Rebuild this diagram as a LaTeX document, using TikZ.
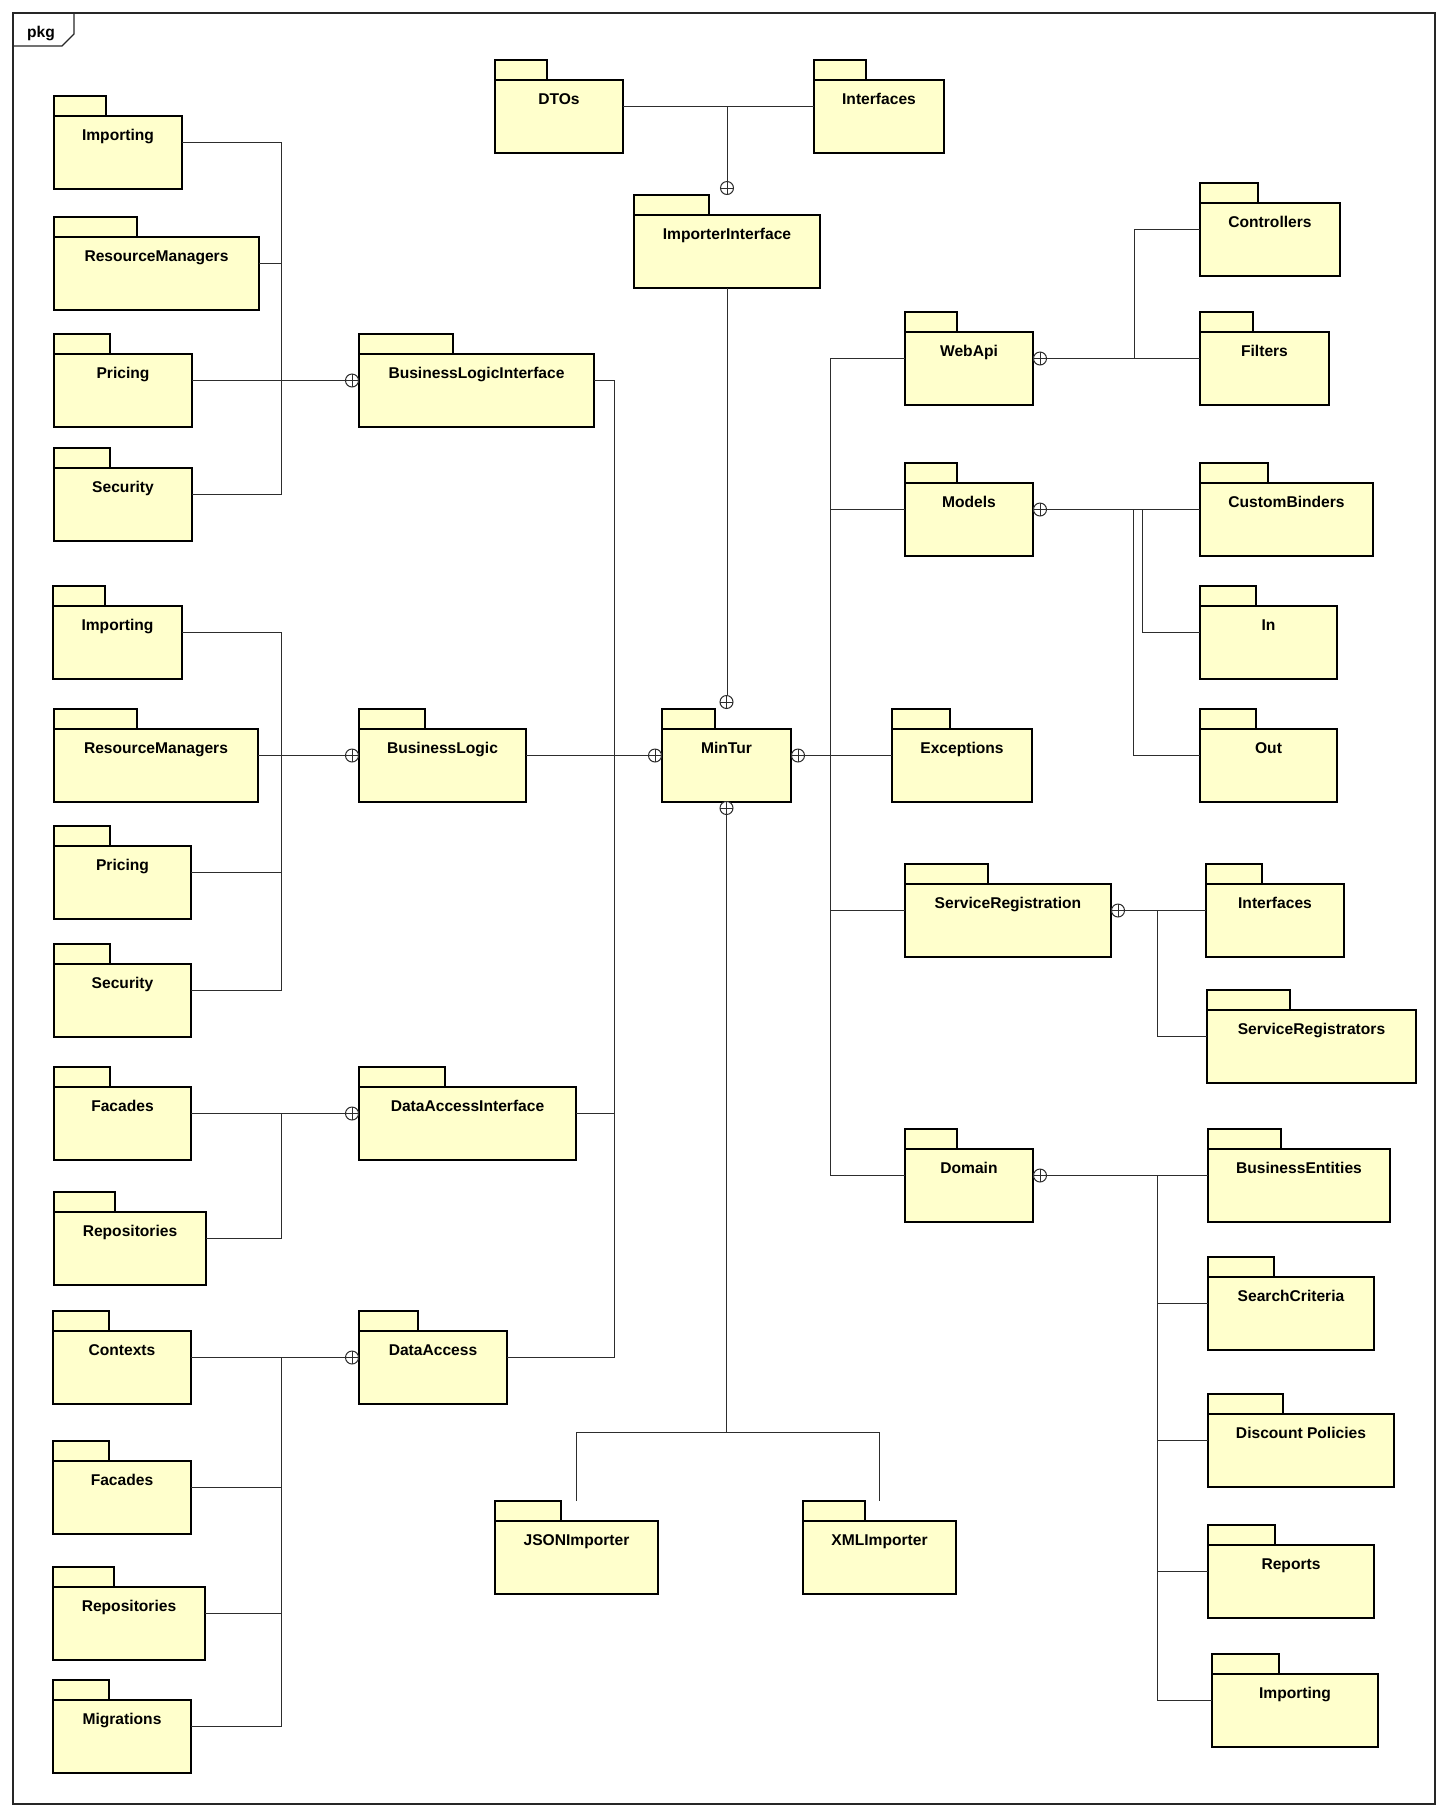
\documentclass[tikz,border=0pt]{standalone}
\usepackage{fontspec}
\setmainfont{Liberation Sans}
\definecolor{pkgYellow}{RGB}{255,255,204}
\definecolor{linkGray}{RGB}{45,45,45}

\newcommand{\PkgNode}[6]{%
	\node[pkgArea, minimum width = #4pt] (#1) at (#2, #3) {};
	\draw[pkgLine] (#1.north west) rectangle ++(#5, 20);
	\draw[pkgLine] ([yshift = -20pt]#1.north west) rectangle (#1.south east);
	\node[pkgLabel] at ([yshift = -44pt]#1.north) {#6};
}

\begin{document}
\begin{tikzpicture}[x = 1pt, y = -1pt]
	\tikzstyle{pkgArea} = [rectangle, anchor = north west, minimum height = 93pt, inner sep = 0pt, outer sep = 0pt]
	\tikzstyle{pkgLine} = [line width = 2.9pt, draw = black, fill = pkgYellow]
	\tikzstyle{pkgLabel} = [anchor = base, inner sep = 0pt, font = \bfseries\fontsize{15.6}{18}\selectfont]
	\tikzstyle{frameLine} = [line width = 1.1pt, draw = black!85]
	\tikzstyle{frameLabel} = [anchor = base west, inner sep = 0pt, font = \bfseries\fontsize{15.6}{18}\selectfont]
	\tikzstyle{link} = [line width = 1pt, draw = linkGray]
	\tikzstyle{nest} = [shape = circle, minimum size = 13pt, inner sep = 0pt, line width = 1pt, draw = linkGray, fill = white,
		path picture = {\draw[line width = 1pt, linkGray] (path picture bounding box.north) -- (path picture bounding box.south) (path picture bounding box.west) -- (path picture bounding box.east);}]
	\useasboundingbox (0, 0) rectangle (1448, 1816);
	\draw[frameLine] (13, 13) rectangle (1435, 1804);
	\draw[frameLine] (13, 46) -- (62, 46) -- (74, 34) -- (74, 13);
	\node[frameLabel] (frameName) at (27, 37) {pkg};

	\PkgNode{impA}{54}{96}{128}{52}{Importing}
	\PkgNode{resA}{54}{217}{205}{83}{ResourceManagers}
	\PkgNode{priA}{54}{334}{138}{56}{Pricing}
	\PkgNode{secA}{54}{448}{138}{56}{Security}
	\PkgNode{bli}{359}{334}{235}{94}{BusinessLogicInterface}

	\PkgNode{impB}{53}{586}{129}{52}{Importing}
	\PkgNode{resB}{54}{709}{204}{83}{ResourceManagers}
	\PkgNode{priB}{54}{826}{137}{56}{Pricing}
	\PkgNode{secB}{54}{944}{137}{56}{Security}
	\PkgNode{bl}{359}{709}{167}{66}{BusinessLogic}

	\PkgNode{facC}{54}{1067}{137}{56}{Facades}
	\PkgNode{repC}{54}{1192}{152}{61}{Repositories}
	\PkgNode{dai}{359}{1067}{217}{86}{DataAccessInterface}

	\PkgNode{ctxD}{53}{1311}{138}{56}{Contexts}
	\PkgNode{facD}{53}{1441}{138}{56}{Facades}
	\PkgNode{repD}{53}{1567}{152}{61}{Repositories}
	\PkgNode{migD}{53}{1680}{138}{56}{Migrations}
	\PkgNode{da}{359}{1311}{148}{59}{DataAccess}

	\PkgNode{dtos}{495}{60}{128}{52}{DTOs}
	\PkgNode{ifaces}{814}{60}{130}{52}{Interfaces}
	\PkgNode{impif}{634}{195}{186}{75}{ImporterInterface}
	\PkgNode{mintur}{662}{709}{129}{53}{MinTur}
	\PkgNode{json}{495}{1501}{163}{66}{JSONImporter}
	\PkgNode{xml}{803}{1501}{153}{62}{XMLImporter}

	\PkgNode{webapi}{905}{312}{128}{52}{WebApi}
	\PkgNode{models}{905}{463}{128}{52}{Models}
	\PkgNode{exc}{892}{709}{140}{58}{Exceptions}
	\PkgNode{svcreg}{905}{864}{206}{83}{ServiceRegistration}
	\PkgNode{domain}{905}{1129}{128}{52}{Domain}

	\PkgNode{controllers}{1200}{183}{140}{58}{Controllers}
	\PkgNode{filters}{1200}{312}{129}{53}{Filters}
	\PkgNode{custbind}{1200}{463}{173}{68}{CustomBinders}
	\PkgNode{inpkg}{1200}{586}{137}{56}{In}
	\PkgNode{outpkg}{1200}{709}{137}{56}{Out}
	\PkgNode{svcif}{1206}{864}{138}{56}{Interfaces}
	\PkgNode{svcregs}{1207}{990}{209}{83}{ServiceRegistrators}
	\PkgNode{bizent}{1208}{1129}{182}{73}{BusinessEntities}
	\PkgNode{search}{1208}{1257}{166}{66}{SearchCriteria}
	\PkgNode{discount}{1208}{1394}{186}{75}{Discount Policies}
	\PkgNode{reports}{1208}{1525}{166}{67}{Reports}
	\PkgNode{impDom}{1212}{1654}{166}{67}{Importing}

	\node[nest] (nBli) at ([xshift = -7pt]bli.west) {};
	\node[nest] (nBl) at ([xshift = -7pt]bl.west) {};
	\node[nest] (nDai) at ([xshift = -7pt]dai.west) {};
	\node[nest] (nDa) at ([xshift = -7pt]da.west) {};
	\node[nest] (nImp) at ([yshift = 7pt]impif.north) {};
	\node[nest] (nMinN) at ([yshift = 7pt]mintur.north) {};
	\node[nest] (nMinS) at ([yshift = -6pt]mintur.south) {};
	\node[nest] (nMinW) at ([xshift = -7pt]mintur.west) {};
	\node[nest] (nMinE) at ([xshift = 7pt]mintur.east) {};
	\node[nest] (nWeb) at ([xshift = 7pt]webapi.east) {};
	\node[nest] (nMod) at ([xshift = 7pt]models.east) {};
	\node[nest] (nSvc) at ([xshift = 7pt]svcreg.east) {};
	\node[nest] (nDom) at ([xshift = 7pt]domain.east) {};

	\coordinate (trunkL) at (281, 0);
	\coordinate (trunkM) at (614, 0);
	\coordinate (trunkR) at (830, 0);
	\coordinate (trunkW) at (1134, 0);
	\coordinate (trunkIn) at (1142, 0);
	\coordinate (trunkOut) at (1133, 0);
	\coordinate (trunkS) at (1157, 0);
	\coordinate (trunkD) at (1157, 0);
	\coordinate (split) at (727, 1432);

	\draw[link] (impA.east) -| (secA.east -| trunkL) -- (secA.east);
	\draw[link] (resA.east) -- (resA.east -| trunkL);
	\draw[link] (priA.east) -- (nBli.west);
	\draw[link] (impB.east) -| (secB.east -| trunkL) -- (secB.east);
	\draw[link] (priB.east) -- (priB.east -| trunkL);
	\draw[link] (resB.east) -- (nBl.west);
	\draw[link] (facC.east) -- (nDai.west);
	\draw[link] (repC.east) -| (facC.east -| trunkL);
	\draw[link] (ctxD.east) -- (nDa.west);
	\draw[link] (migD.east) -| (ctxD.east -| trunkL);
	\draw[link] (facD.east) -- (facD.east -| trunkL);
	\draw[link] (repD.east) -- (repD.east -| trunkL);

	\draw[link] (bli.east) -| (da.east -| trunkM) -- (da.east);
	\draw[link] (dai.east) -- (dai.east -| trunkM);
	\draw[link] (bl.east) -- (nMinW.west);

	\draw[link] (dtos.east) -- (ifaces.west);
	\draw[link] (nImp.north) -- (nImp.north |- dtos.east);
	\draw[link] (impif.south) -- (impif.south |- nMinN.north);
	\draw[link] (nMinS.south) -- (nMinS.south |- split);
	\draw[link] (json.north) |- (split) -| (xml.north);

	\draw[link] (nMinE.east) -- (exc.west);
	\draw[link] (webapi.west) -| (domain.west -| trunkR) -- (domain.west);
	\draw[link] (models.west) -- (models.west -| trunkR);
	\draw[link] (svcreg.west) -- (svcreg.west -| trunkR);

	\draw[link] (nWeb.east) -- (filters.west);
	\draw[link] (controllers.west) -| (filters.west -| trunkW);
	\draw[link] (nMod.east) -- (custbind.west);
	\draw[link] (inpkg.west) -| (custbind.west -| trunkIn);
	\draw[link] (outpkg.west) -| (custbind.west -| trunkOut);
	\draw[link] (nSvc.east) -- (svcif.west);
	\draw[link] (svcregs.west) -| (svcif.west -| trunkS);
	\draw[link] (nDom.east) -- (bizent.west);
	\draw[link] (impDom.west) -| (bizent.west -| trunkD);
	\draw[link] (search.west) -- (search.west -| trunkD);
	\draw[link] (discount.west) -- (discount.west -| trunkD);
	\draw[link] (reports.west) -- (reports.west -| trunkD);
\end{tikzpicture}
\end{document}
